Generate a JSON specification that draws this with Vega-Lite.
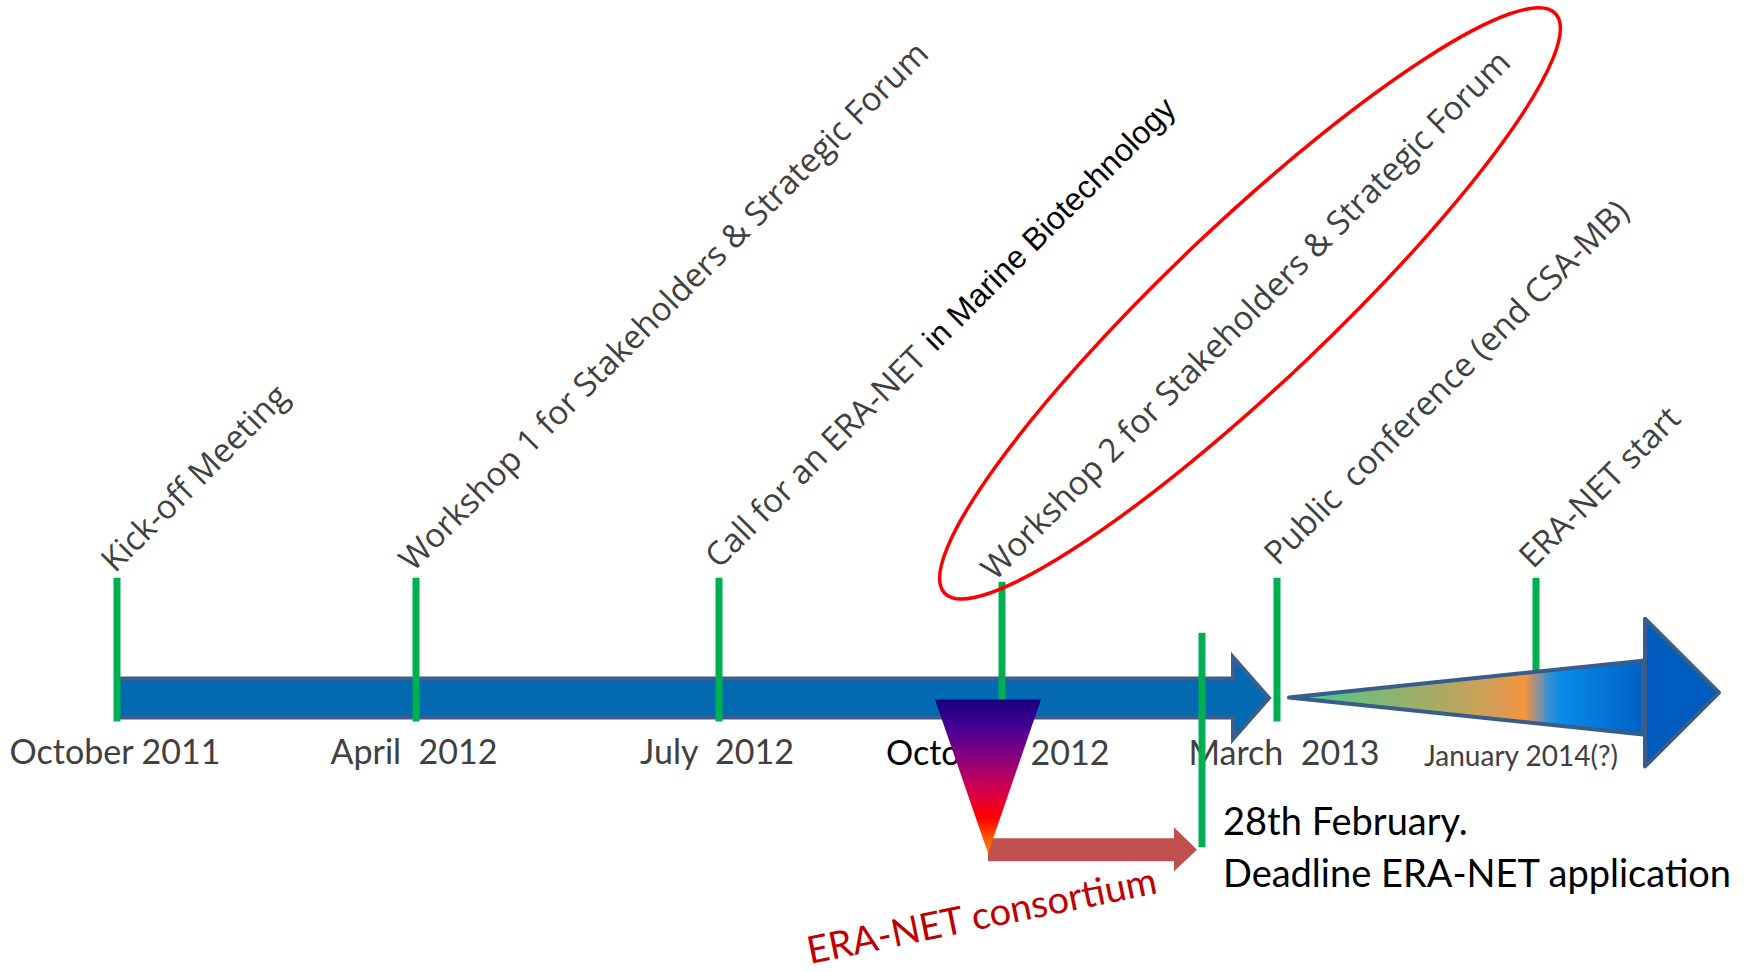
{
  "$schema": "https://vega.github.io/schema/vega-lite/v6.json",
  "width": 1748,
  "height": 972,
  "autosize": {"type": "fit", "contains": "padding"},
  "padding": 0,
  "background": "white",
  "config": {"view": {"stroke": null}},
  "datasets": {
    "mainArrow": [
      {"x": 117, "y": 680, "y2": 719},
      {"x": 1233, "y": 680, "y2": 719},
      {"x": 1233, "y": 658.5, "y2": 740.5},
      {"x": 1269, "y": 699.5, "y2": 699.5}
    ],
    "dates": [
      {"label": "October 2011", "x": 115, "y": 766},
      {"label": "April\u00a0 2012", "x": 414, "y": 766},
      {"label": "July\u00a0 2012", "x": 717, "y": 766},
      {"label": "2012", "x": 1070, "y": 767},
      {"label": "March\u00a0 2013", "x": 1284, "y": 767}
    ],
    "datesBlack": [
      {"label": "October", "x": 886, "y": 767}
    ],
    "datesSmall": [
      {"label": "January 2014(?)", "x": 1521, "y": 768}
    ],
    "events": [
      {"event": "Kick-off Meeting", "x": 117, "y": 579, "y2": 723},
      {"event": "Workshop 1", "x": 416, "y": 579, "y2": 723},
      {"event": "Call for an ERA-NET", "x": 719, "y": 579, "y2": 723},
      {"event": "Workshop 2", "x": 1002, "y": 583, "y2": 710},
      {"event": "Deadline ERA-NET application", "x": 1202, "y": 634, "y2": 849},
      {"event": "Public conference", "x": 1277, "y": 579, "y2": 723},
      {"event": "ERA-NET start", "x": 1536, "y": 579, "y2": 690}
    ],
    "wedge": [
      {"x": 1289, "y": 699, "y2": 699},
      {"x": 1643, "y": 662, "y2": 736}
    ],
    "wedgeHead": [
      {"x": 1645, "y": 620, "y2": 768},
      {"x": 1719, "y": 694, "y2": 694}
    ],
    "redArrow": [
      {"x": 988, "y": 840, "y2": 863},
      {"x": 1174, "y": 840, "y2": 863},
      {"x": 1174, "y": 829, "y2": 873},
      {"x": 1197, "y": 851.5, "y2": 851.5}
    ],
    "funnel": [
      {"y": 701, "x": 935, "x2": 1041},
      {"y": 855, "x": 988, "x2": 988}
    ],
    "labels": [
      {"label": "Kick-off Meeting", "x": 115, "y": 575},
      {"label": "Workshop 1 for Stakeholders & Strategic Forum", "x": 413, "y": 574},
      {"label": "Call for an ERA-NET", "x": 719, "y": 571},
      {"label": "Workshop 2 for Stakeholders & Strategic Forum", "x": 995, "y": 583},
      {"label": "Public\u00a0 conference (end CSA-MB)", "x": 1278, "y": 568},
      {"label": "ERA-NET start", "x": 1533, "y": 571}
    ],
    "labelArial": [
      {"label": "in Marine Biotechnology", "x": 936, "y": 353}
    ],
    "deadline": [
      {"label": "28th February.", "x": 1223, "y": 837},
      {"label": "Deadline ERA-NET application", "x": 1223, "y": 889}
    ],
    "consortium": [
      {"label": "ERA-NET consortium", "x": 810, "y": 966}
    ],
    "highlight": [
      {"label": "Workshop 2", "x": 1250, "y": 304}
    ]
  },
  "encoding": {
    "x": {"field": "x", "type": "quantitative", "scale": {"domain": [0, 1748], "nice": false, "zero": false}, "axis": null},
    "y": {"field": "y", "type": "quantitative", "scale": {"domain": [0, 972], "nice": false, "zero": false, "reverse": true}, "axis": null}
  },
  "layer": [
    {
      "data": {"name": "mainArrow"},
      "mark": {"type": "area", "orient": "vertical", "fill": "#0369B1", "stroke": "#3B5E8E", "strokeWidth": 4, "strokeJoin": "miter", "opacity": 1},
      "encoding": {"y2": {"field": "y2"}}
    },
    {
      "data": {"name": "dates"},
      "mark": {"type": "text", "font": "Lato", "fontSize": 34, "fill": "#404040", "align": "center", "baseline": "alphabetic"},
      "encoding": {"text": {"field": "label"}}
    },
    {
      "data": {"name": "datesBlack"},
      "mark": {"type": "text", "font": "Lato", "fontSize": 34, "fill": "#000000", "align": "left", "baseline": "alphabetic"},
      "encoding": {"text": {"field": "label"}}
    },
    {
      "data": {"name": "datesSmall"},
      "mark": {"type": "text", "font": "Lato", "fontSize": 28, "fill": "#404040", "align": "center", "baseline": "alphabetic"},
      "encoding": {"text": {"field": "label"}}
    },
    {
      "data": {"name": "events"},
      "mark": {"type": "rule", "color": "#00B050", "strokeWidth": 7},
      "encoding": {"y2": {"field": "y2"}}
    },
    {
      "data": {"name": "wedge"},
      "mark": {
        "type": "area", "orient": "vertical", "stroke": "#385D8A", "strokeWidth": 4, "strokeJoin": "round", "opacity": 1,
        "fill": {
          "gradient": "linear", "x1": 0, "y1": 0, "x2": 1, "y2": 0,
          "stops": [
            {"offset": 0, "color": "#35CC96"},
            {"offset": 0.25, "color": "#84B774"},
            {"offset": 0.45, "color": "#B0A862"},
            {"offset": 0.6, "color": "#DC9C52"},
            {"offset": 0.665, "color": "#F7943D"},
            {"offset": 0.7, "color": "#999090"},
            {"offset": 0.735, "color": "#3390D8"},
            {"offset": 0.77, "color": "#0A8BE8"},
            {"offset": 1, "color": "#0060C6"}
          ]
        }
      },
      "encoding": {"y2": {"field": "y2"}}
    },
    {
      "data": {"name": "wedgeHead"},
      "mark": {"type": "area", "orient": "vertical", "fill": "#005BBF", "stroke": "#385D8A", "strokeWidth": 4, "strokeJoin": "round", "opacity": 1},
      "encoding": {"y2": {"field": "y2"}}
    },
    {
      "data": {"name": "redArrow"},
      "mark": {"type": "area", "orient": "vertical", "fill": "#C0504D", "opacity": 1},
      "encoding": {"y2": {"field": "y2"}}
    },
    {
      "data": {"name": "funnel"},
      "mark": {
        "type": "area", "orient": "horizontal", "opacity": 1,
        "fill": {
          "gradient": "linear", "x1": 0, "y1": 0, "x2": 0, "y2": 1,
          "stops": [
            {"offset": 0, "color": "#15007E"},
            {"offset": 0.19, "color": "#4A0095"},
            {"offset": 0.36, "color": "#820080"},
            {"offset": 0.54, "color": "#C4005A"},
            {"offset": 0.67, "color": "#E8002C"},
            {"offset": 0.77, "color": "#FF0000"},
            {"offset": 0.9, "color": "#FF5500"},
            {"offset": 1, "color": "#FF8C00"}
          ]
        }
      },
      "encoding": {"x2": {"field": "x2"}}
    },
    {
      "data": {"name": "labels"},
      "mark": {"type": "text", "font": "Open Sans", "fontSize": 33, "fill": "#404040", "align": "left", "baseline": "alphabetic", "angle": 315},
      "encoding": {"text": {"field": "label"}}
    },
    {
      "data": {"name": "labelArial"},
      "mark": {"type": "text", "font": "Liberation Sans", "fontSize": 32, "fill": "#000000", "align": "left", "baseline": "alphabetic", "angle": 315},
      "encoding": {"text": {"field": "label"}}
    },
    {
      "data": {"name": "deadline"},
      "mark": {"type": "text", "font": "Lato", "fontSize": 38, "fill": "#000000", "align": "left", "baseline": "alphabetic"},
      "encoding": {"text": {"field": "label"}}
    },
    {
      "data": {"name": "consortium"},
      "mark": {"type": "text", "font": "Lato", "fontSize": 38, "fill": "#C00000", "align": "left", "baseline": "alphabetic", "angle": 348.5},
      "encoding": {"text": {"field": "label"}}
    },
    {
      "data": {"name": "highlight"},
      "mark": {
        "type": "point",
        "shape": "M -1 0 C -1 -0.105 -0.552 -0.19 0 -0.19 C 0.552 -0.19 1 -0.105 1 0 C 1 0.105 0.552 0.19 0 0.19 C -0.552 0.19 -1 0.105 -1 0 Z",
        "size": 708964,
        "angle": 316.5,
        "filled": false,
        "stroke": "#FF0000",
        "strokeWidth": 3.5,
        "opacity": 1
      }
    }
  ]
}
